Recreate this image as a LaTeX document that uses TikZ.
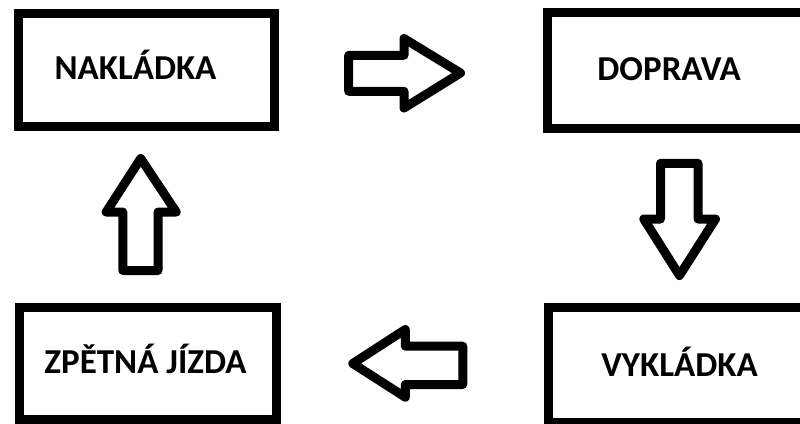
\documentclass[tikz,border=0pt]{standalone}
\usepackage{fontspec}
\setmainfont{Carlito}
\begin{document}
\begin{tikzpicture}[x=1pt,y=-1pt,
  box/.style={draw=black,line width=9pt,fill=white,rectangle,inner sep=0pt},
  lbl/.style={font=\fontsize{35}{41}\selectfont\bfseries,anchor=base,inner sep=0pt},
  blockarrow/.style={draw=black,line width=9pt,line join=round,fill=white}]
\useasboundingbox (0,0) rectangle (800,423);
\clip (0,0) rectangle (800,423);
% boxes
\node[box,minimum width=256.5pt,minimum height=113pt] (nak) at (146.25,69.5) {};
\node[box,minimum width=282.5pt,minimum height=115.2pt] (dop) at (688.75,70.4) {};
\node[box,minimum width=257.3pt,minimum height=112.5pt] (zpet) at (148.15,363.25) {};
\node[box,minimum width=281.3pt,minimum height=115pt] (vyk) at (689.35,364.5) {};
% labels
\node[lbl] (tnak) at (135.5,79) {NAKLÁDKA};
\node[lbl] (tdop) at (669.2,80) {DOPRAVA};
\node[lbl] (tzpet) at (145.5,373) {ZPĚTNÁ JÍZDA};
\node[lbl] (tvyk) at (679.5,376) {VYKLÁDKA};
% block arrows
\draw[blockarrow] (348.7,55.3) -- (404,55.3) -- (404,38.5) -- (460.5,73) -- (404,108) -- (404,91.3) -- (348.7,91.3) -- cycle;
\draw[blockarrow] (660.5,163.3) -- (698,163.3) -- (698,219) -- (715.5,219) -- (679.5,275.5) -- (643.8,219) -- (660.5,219) -- cycle;
\draw[blockarrow] (462.8,346.2) -- (405.3,346.2) -- (405.3,329.5) -- (352.8,363.5) -- (405.3,397.2) -- (405.3,384.5) -- (462.8,384.5) -- cycle;
\draw[blockarrow] (122.8,270.5) -- (122.8,212) -- (106.2,212) -- (140.7,158.5) -- (176.2,212) -- (158,212) -- (158,270.5) -- cycle;
\end{tikzpicture}
\end{document}
